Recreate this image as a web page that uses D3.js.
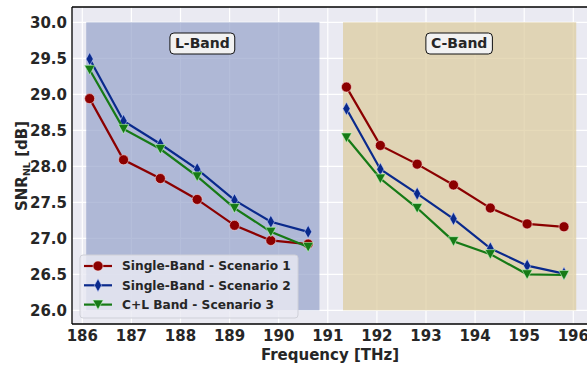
<!DOCTYPE html>
<html><head><meta charset="utf-8">
<script src="https://cdn.jsdelivr.net/npm/d3@7"></script>
<style>
body{margin:0;background:#fff;}
text{font-family:"DejaVu Sans",sans-serif;font-weight:bold;fill:#262626;}
</style></head>
<body><svg id="c" width="587" height="365"></svg>
<script>
const freqL = [186.15, 186.84, 187.59, 188.34, 189.10, 189.84, 190.60];
const freqC = [191.38, 192.07, 192.82, 193.56, 194.31, 195.06, 195.81];
const s1L = [28.94, 28.09, 27.83, 27.54, 27.18, 26.97, 26.92];
const s1C = [29.10, 28.29, 28.03, 27.74, 27.42, 27.20, 27.16];
const s2L = [29.49, 28.63, 28.31, 27.96, 27.53, 27.23, 27.09];
const s2C = [28.80, 27.96, 27.62, 27.27, 26.86, 26.62, 26.51];
const s3L = [29.34, 28.52, 28.24, 27.86, 27.42, 27.09, 26.88];
const s3C = [28.40, 27.83, 27.42, 26.96, 26.78, 26.50, 26.49];
const seriesNames = ["Single-Band - Scenario 1", "Single-Band - Scenario 2", "C+L Band - Scenario 3"];
const xTicks = [186,187,188,189,190,191,192,193,194,195,196];
const yTicks = [26.0,26.5,27.0,27.5,28.0,28.5,29.0,29.5,30.0];
const bands = [{name:"L-Band", x0:186.08, x1:190.83}, {name:"C-Band", x0:191.31, x1:196.06}];
const bandY = [26.0, 30.0];

const svg = d3.select("#c");
const L=72, R=600, T=7, B=324;
const x = d3.scaleLinear().domain([186,196]).range([82.3,573.3]);
const y = d3.scaleLinear().domain([26,30]).range([310.3,22.3]);

svg.append("rect").attr("x",L).attr("y",T).attr("width",R-L).attr("height",B-T).attr("fill","#eaeaf2");
const g = svg.append("g");
// grid
g.selectAll(".gx").data(xTicks).join("line").attr("x1",d=>x(d)).attr("x2",d=>x(d)).attr("y1",T).attr("y2",B)
 .attr("stroke","#fff").attr("stroke-width",1.2);
g.selectAll(".gy").data(yTicks).join("line").attr("y1",d=>y(d)).attr("y2",d=>y(d)).attr("x1",L).attr("x2",R)
 .attr("stroke","#fff").attr("stroke-width",1.2);
// bands
const bandFill = ["#96a3ca","#dccb9b"];
g.selectAll(".band").data(bands).join("rect")
 .attr("x",d=>x(d.x0)).attr("width",d=>x(d.x1)-x(d.x0))
 .attr("y",y(bandY[1])).attr("height",y(bandY[0])-y(bandY[1]))
 .attr("fill",(d,i)=>bandFill[i]).attr("fill-opacity",0.7);

const colors = ["#8b0000","#0a2a8c","#167a16"];
const data = [
  [freqL.map((f,i)=>[f,s1L[i]]), freqC.map((f,i)=>[f,s1C[i]])],
  [freqL.map((f,i)=>[f,s2L[i]]), freqC.map((f,i)=>[f,s2C[i]])],
  [freqL.map((f,i)=>[f,s3L[i]]), freqC.map((f,i)=>[f,s3C[i]])]
];
const line = d3.line().x(d=>x(d[0])).y(d=>y(d[1]));
function marker(sel, k, cx, cy, c){
  const edge = "rgba(255,220,220,0.7)";
  if(k===0) sel.append("circle").attr("cx",cx).attr("cy",cy).attr("r",5).attr("fill",c).attr("stroke",edge).attr("stroke-width",0.8);
  else if(k===1) sel.append("path").attr("d",`M${cx},${cy-6.5}L${cx+3.6},${cy}L${cx},${cy+6.5}L${cx-3.6},${cy}Z`).attr("fill",c).attr("stroke","rgba(200,210,255,0.7)").attr("stroke-width",0.8);
  else sel.append("path").attr("d",`M${cx-5.2},${cy-4.5}L${cx+5.2},${cy-4.5}L${cx},${cy+5}Z`).attr("fill",c).attr("stroke","rgba(200,255,200,0.7)").attr("stroke-width",0.8);
}
data.forEach((segs,k)=>{
  segs.forEach(seg=>{
    g.append("path").datum(seg).attr("d",line).attr("fill","none").attr("stroke",colors[k]).attr("stroke-width",2.2);
    const mg = g.append("g");
    seg.forEach(p=>marker(mg,k,x(p[0]),y(p[1]),colors[k]));
  });
});

// band labels
bands.forEach(b=>{
  const cx = (x(b.x0)+x(b.x1))/2 - 0.5;
  const t = svg.append("text").attr("x",cx).attr("y",43.5).attr("dy","0.35em").attr("text-anchor","middle")
    .attr("font-size",14).text(b.name);
  const bb = t.node().getBBox();
  svg.insert("rect", function(){return t.node();}).attr("x",bb.x-5).attr("y",33).attr("width",bb.width+10).attr("height",21)
    .attr("rx",4).attr("fill","#f2f2f2").attr("stroke","#111").attr("stroke-width",1);
});

// legend
const lg = svg.append("g");
lg.append("rect").attr("x",80).attr("y",255).attr("width",218).attr("height",63).attr("rx",3)
 .attr("fill","#eaeaf2").attr("fill-opacity",0.8).attr("stroke","#cfd0d8").attr("stroke-width",1);
seriesNames.forEach((n,k)=>{
  const yy = 266 + k*19.3;
  lg.append("line").attr("x1",84).attr("x2",112).attr("y1",yy).attr("y2",yy).attr("stroke",colors[k]).attr("stroke-width",2.2);
  marker(lg,k,98,yy,colors[k]);
  lg.append("text").attr("x",122).attr("y",yy).attr("dy","0.36em").attr("font-size",12.2).text(n);
});

// spines
svg.append("line").attr("x1",L).attr("x2",L).attr("y1",T).attr("y2",B).attr("stroke","#000").attr("stroke-width",1.3);
svg.append("line").attr("x1",L).attr("x2",R).attr("y1",B).attr("y2",B).attr("stroke","#000").attr("stroke-width",1.3);
svg.append("line").attr("x1",L).attr("x2",R).attr("y1",T).attr("y2",T).attr("stroke","#000").attr("stroke-width",1.3);

// tick labels
svg.selectAll(".xt").data(xTicks).join("text").attr("x",d=>x(d)).attr("y",341).attr("text-anchor","middle")
 .attr("font-size",15).text(d=>d);
svg.selectAll(".yt").data(yTicks).join("text").attr("x",67).attr("y",d=>y(d)).attr("dy","0.36em").attr("text-anchor","end")
 .attr("font-size",15).text(d=>d.toFixed(1));

svg.append("text").attr("x",330).attr("y",360).attr("text-anchor","middle").attr("font-size",15).text("Frequency [THz]");
const yl = svg.append("text").attr("transform","translate(27,166) rotate(-90)").attr("text-anchor","middle").attr("font-size",15);
yl.append("tspan").text("SNR");
yl.append("tspan").attr("font-size",9.5).attr("dy",3).text("NL");
yl.append("tspan").attr("dy",-3).text(" [dB]");
</script></body></html>
